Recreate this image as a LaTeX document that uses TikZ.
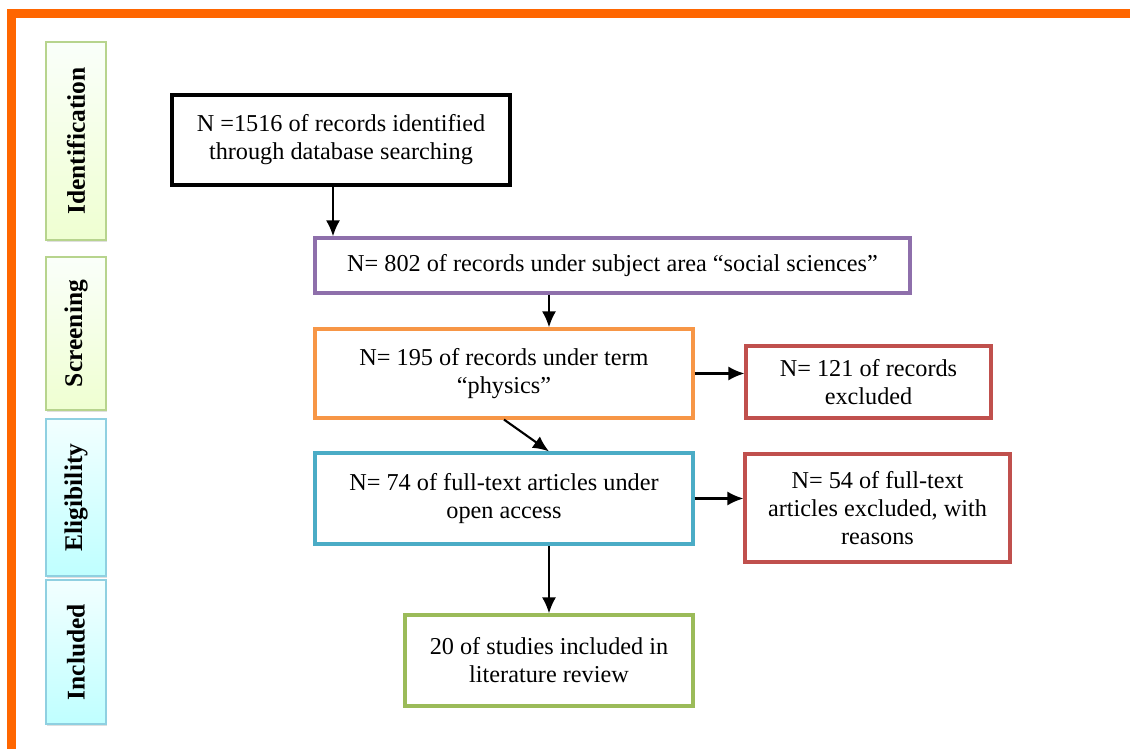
\documentclass[tikz,border=0pt]{standalone}
\usepackage{fontspec}
\setmainfont{Liberation Serif}
\newfontfamily\recfont{Liberation Serif}
\usetikzlibrary{shadows}
\usetikzlibrary{arrows.meta}

\definecolor{framebar}{HTML}{FF6600}
\definecolor{stagegreen}{HTML}{B7D48D}
\definecolor{stageblue}{HTML}{8FD0E1}
\definecolor{boxpurple}{HTML}{8E6FAB}
\definecolor{boxorange}{HTML}{F79646}
\definecolor{boxred}{HTML}{C0504D}
\definecolor{boxcyan}{HTML}{4BACC6}
\definecolor{boxgreen}{HTML}{9BBB59}

\begin{document}
\begin{tikzpicture}[x=0.02cm, y=-0.02cm,
    font=\recfont\fontsize{13.8}{16}\selectfont,
    stage/.style={draw, line width=0.9pt, minimum width=1.2cm, inner sep=0pt,
      drop shadow={shadow xshift=0.4pt, shadow yshift=-1.2pt, opacity=0.25},
      font=\recfont\fontsize{14.5}{17}\selectfont\bfseries},
    greenstage/.style={stage, draw=stagegreen, top color=green!2!white, bottom color=green!35!yellow!18!white},
    bluestage/.style={stage, draw=stageblue, top color=cyan!5!white, bottom color=cyan!25!white},
    record/.style={draw, line width=1.8pt, fill=white, inner sep=0pt, align=center},
    arr/.style={line width=1.2pt, -{Latex[length=3.2mm,width=2.8mm]}}]
      \useasboundingbox (0,0) rectangle (1130,749);

      % orange frame
      \fill[framebar] (7,9) rectangle (1130,18);
      \fill[framebar] (7,9) rectangle (16,749);

      % stages
      \node[greenstage, minimum height=3.96cm] (ident) at (76,141) {\rotatebox{90}{Identification}};
      \node[greenstage, minimum height=3.06cm] (screen) at (76,333.5) {\rotatebox{90}{Screening}};
      \node[bluestage, minimum height=3.14cm] (elig) at (76,497.5) {\rotatebox{90}{Eligibility}};
      \node[bluestage, minimum height=2.88cm] (incl) at (76,652) {\rotatebox{90}{Included}};

      % records
      \node[record, draw=black, line width=2pt, minimum width=6.76cm, minimum height=1.8cm] (found) at (341,140)
        {N =1516 of records identified\\through database searching};
      \node[record, draw=boxpurple, minimum width=11.9cm, minimum height=1.1cm] (social) at (612.5,265.5)
        {N= 802 of records under subject area “social sciences”};
      \node[record, draw=boxorange, minimum width=7.56cm, minimum height=1.78cm] (physics) at (504,373.5)
        {N= 195 of records under term\\“physics”};
      \node[record, draw=boxred, minimum width=4.9cm, minimum height=1.44cm] (dropped) at (868.5,382)
        {N= 121 of records\\excluded};
      \node[record, draw=boxcyan, minimum width=7.56cm, minimum height=1.82cm] (open) at (504,498.5)
        {N= 74 of full-text articles under\\open access};
      \node[record, draw=boxred, minimum width=5.3cm, minimum height=2.16cm] (reasons) at (877.5,508)
        {N= 54 of full-text\\articles excluded, with\\reasons};
      \node[record, draw=boxgreen, minimum width=5.76cm, minimum height=1.82cm] (review) at (549,660.5)
        {20 of studies included in\\literature review};

      \draw[arr] ([xshift=-0.16cm]found.south) -- ([xshift=-0.16cm]found.south |- social.north);
      \draw[arr] (social.south -| review.north) -- (physics.north -| review.north);
      \draw[arr] (physics.east) -- (physics.east -| dropped.west);
      \draw[arr] (physics.south) -- (open.north -| review.north);
      \draw[arr] (open.east) -- (open.east -| reasons.west);
      \draw[arr] (open.south -| review.north) -- (review.north);
    \end{tikzpicture}
\end{document}
